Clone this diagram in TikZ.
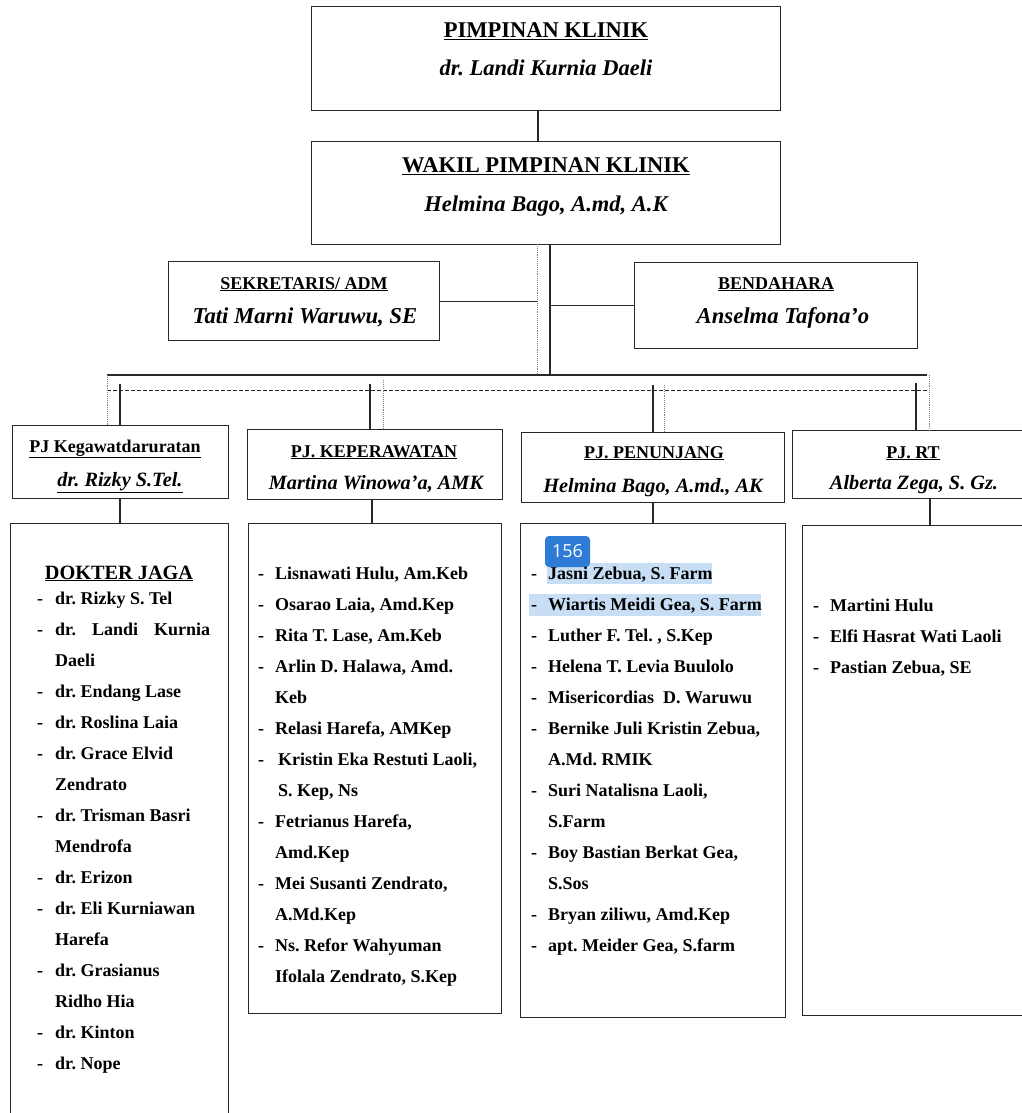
\documentclass[tikz,border=0pt]{standalone}
\usepackage{fontspec}
\setmainfont{Liberation Serif}
\newfontfamily\badgefont{Open Sans}
\usetikzlibrary{positioning}
\frenchspacing

\definecolor{inkgray}{RGB}{40,40,40}
\definecolor{selblue}{RGB}{200,222,244}
\definecolor{badgeblue}{RGB}{46,124,214}

\newcommand{\headfont}{\fontsize{22.5}{26}\selectfont\bfseries}
\newcommand{\subfont}{\fontsize{18}{22}\selectfont\bfseries}
\newcommand{\subname}{\fontsize{22.7}{26}\selectfont\bfseries\itshape}
\newcommand{\pjfont}{\fontsize{18}{22}\selectfont\bfseries}
\newcommand{\pjname}{\fontsize{20.3}{24}\selectfont\bfseries\itshape}
\newcommand{\listfont}{\fontsize{18}{31}\selectfont\bfseries}

\tikzset{
  box/.style={draw=inkgray, line width=1.3pt, rectangle, inner sep=0pt, anchor=north west},
  link/.style={draw=inkgray, line width=1.1pt},
  dotlink/.style={draw=gray, line width=0.9pt, densely dotted},
  dashlink/.style={draw=inkgray, line width=1pt, dash pattern=on 4pt off 2pt},
  hdtitle/.style={anchor=base, inner sep=0pt, font=\headfont},
  hdname/.style={anchor=base, inner sep=0pt, font=\headfont\itshape},
  roster/.style={anchor=base west, inner sep=0pt, font=\listfont}
}

\begin{document}
\begin{tikzpicture}[x=1pt, y=-1pt]
    \useasboundingbox (0,0) rectangle (1022,1113);
    \clip (0,0) rectangle (1022,1113);

    % Top boxes
    \node[box, minimum width=469pt, minimum height=104pt] (pimpinan) at (311,6) {};
    \node[box, minimum width=469pt, minimum height=103pt] (wakil) at (311,141) {};
    \node[box, minimum width=271pt, minimum height=79pt] (sekretaris) at (168,261) {};
    \node[box, minimum width=283pt, minimum height=86pt] (bendahara) at (634,262) {};

    \node[hdtitle] (pimpinan-t) at (546,38) {\underline{PIMPINAN KLINIK}};
    \node[hdname] (pimpinan-n) at (546,76) {dr. Landi Kurnia Daeli};
    \node[hdtitle] (wakil-t) at (546,172) {\underline{WAKIL PIMPINAN KLINIK}};
    \node[hdname] (wakil-n) at (546,211) {Helmina Bago, A.md, A.K};
    \node[hdtitle, font=\subfont] (sekretaris-t) at (304,289) {\underline{SEKRETARIS/ ADM}};
    \node[hdname, font=\subname] (sekretaris-n) at (305,323) {Tati Marni Waruwu, SE};
    \node[hdtitle, font=\subfont] (bendahara-t) at (776,289) {\underline{BENDAHARA}};
    \node[hdname, font=\subname] (bendahara-n) at (783,323) {Anselma Tafona'o};

    % Trunk and branches
    \coordinate (trunk) at (550,244);
    \coordinate (dtrunk) at (537,244);
    \coordinate (busL) at (107,375);
    \coordinate (busR) at (927,375);
    \coordinate (dbusL) at (107,390);
    \coordinate (dbusR) at (929,390);

    \draw[link] (pimpinan.south -| 538,0) -- (wakil.north -| 538,0);
    \draw[link] (trunk) -- (trunk |- busR);
    \draw[dotlink] (dtrunk) -- (dtrunk |- busR);
    \draw[link] (sekretaris.east) -- (sekretaris.east -| dtrunk);
    \draw[link] (bendahara.west) -- (bendahara.west -| trunk);
    \draw[link] (busL) -- (busR);
    \draw[dashlink] (dbusL) -- (dbusR);

    % PJ boxes
    \node[box, minimum width=216pt, minimum height=73pt] (keg) at (12,425) {};
    \node[box, minimum width=255pt, minimum height=70pt] (kep) at (247,429) {};
    \node[box, minimum width=263pt, minimum height=70pt] (pen) at (521,432) {};
    \node[box, minimum width=244pt, minimum height=68pt] (rt) at (792,430) {};

    \node[hdtitle, font=\pjfont] (keg-t) at (115,452) {\underline{PJ Kegawatdaruratan}};
    \node[hdname, font=\pjname] (keg-n) at (120,486) {\underline{dr. Rizky S.Tel.}};
    \node[hdtitle, font=\pjfont] (kep-t) at (374,457) {\underline{PJ. KEPERAWATAN}};
    \node[hdname, font=\pjname] (kep-n) at (376,489) {Martina Winowa'a, AMK};
    \node[hdtitle, font=\pjfont] (pen-t) at (654,458) {\underline{PJ. PENUNJANG}};
    \node[hdname, font=\pjname] (pen-n) at (653,492) {Helmina Bago, A.md., AK};
    \node[hdtitle, font=\pjfont] (rt-t) at (913,458) {\underline{PJ. RT}};
    \node[hdname, font=\pjname] (rt-n) at (914,489) {Alberta Zega, S. Gz.};

    % Drops from the bus
    \coordinate (kegdrop) at (120,384);
    \coordinate (kepdrop) at (370,384);
    \coordinate (pendrop) at (653,385);
    \coordinate (rtdrop) at (916,383);
    \draw[link] (kegdrop) -- (kegdrop |- keg.north);
    \draw[link] (kepdrop) -- (kepdrop |- kep.north);
    \draw[link] (pendrop) -- (pendrop |- pen.north);
    \draw[link] (rtdrop) -- (rtdrop |- rt.north);
    \draw[dotlink] (busL) -- (busL |- keg.north);
    \draw[dotlink] (383,380) -- (383,429);
    \draw[dotlink] (664,385) -- (664,432);
    \draw[dotlink] (929,375) -- (929,432);

    % Staff lists
    \node[box, minimum width=218pt, minimum height=610pt] (dokter) at (10,523) {};
    \node[box, minimum width=253pt, minimum height=490pt] (keplist) at (248,523) {};
    \node[box, minimum width=265pt, minimum height=494pt] (penlist) at (520,523) {};
    \node[box, minimum width=240pt, minimum height=490pt] (rtlist) at (802,525) {};

    \draw[link] (keg.south -| kegdrop) -- (dokter.north -| kegdrop);
    \draw[link] (kep.south -| 372,0) -- (keplist.north -| 372,0);
    \draw[link] (pen.south -| pendrop) -- (penlist.north -| pendrop);
    \draw[link] (rt.south -| 930,0) -- (rtlist.north -| 930,0);

    % Selection marks
    \fill[selblue] (547,563) rectangle (712,584);
    \fill[selblue] (529,594) rectangle (761,616);
    \node[fill=badgeblue, rounded corners=4pt, text=white, inner sep=0pt,
      minimum width=45pt, minimum height=31pt, font=\badgefont\fontsize{18}{20}\selectfont]
      (badge) at (567.5,551.5) {156};

    \node[hdtitle, font=\fontsize{20.3}{24}\selectfont\bfseries] (dokter-t) at (119,579) {\underline{DOKTER JAGA}};
    \node[roster] (dokter-l) at (37,604) {\begin{tabular}[t]{@{}p{18pt}@{}l@{}}
      - & dr. Rizky S. Tel\\
      - & \makebox[155pt][s]{dr. Landi Kurnia}\\
        & Daeli\\
      - & dr. Endang Lase\\
      - & dr. Roslina Laia\\
      - & dr. Grace Elvid\\
        & Zendrato\\
      - & dr. Trisman Basri\\
        & Mendrofa\\
      - & dr. Erizon\\
      - & dr. Eli Kurniawan\\
        & Harefa\\
      - & dr. Grasianus\\
        & Ridho Hia\\
      - & dr. Kinton\\
      - & dr. Nope
    \end{tabular}};

    \node[roster] (kep-l) at (258,579) {\begin{tabular}[t]{@{}p{17pt}@{}l@{}}
      - & Lisnawati Hulu, Am.Keb\\
      - & Osarao Laia, Amd.Kep\\
      - & Rita T. Lase, Am.Keb\\
      - & Arlin D. Halawa, Amd.\\
        & Keb\\
      - & Relasi Harefa, AMKep\\
      - & \hspace{3pt}Kristin Eka Restuti Laoli,\\
        & \hspace{3pt}S. Kep, Ns\\
      - & Fetrianus Harefa,\\
        & Amd.Kep\\
      - & Mei Susanti Zendrato,\\
        & A.Md.Kep\\
      - & Ns. Refor Wahyuman\\
        & Ifolala Zendrato, S.Kep
    \end{tabular}};

    \node[roster] (pen-l) at (531,579) {\begin{tabular}[t]{@{}p{17pt}@{}l@{}}
      - & Jasni Zebua, S. Farm\\
      - & Wiartis Meidi Gea, S. Farm\\
      - & Luther F. Tel. , S.Kep\\
      - & Helena T. Levia Buulolo\\
      - & Misericordias\ \ D. Waruwu\\
      - & Bernike Juli Kristin Zebua,\\
        & A.Md. RMIK\\
      - & Suri Natalisna Laoli,\\
        & S.Farm\\
      - & Boy Bastian Berkat Gea,\\
        & S.Sos\\
      - & Bryan ziliwu, Amd.Kep\\
      - & apt. Meider Gea, S.farm
    \end{tabular}};

    \node[roster] (rt-l) at (813,611) {\begin{tabular}[t]{@{}p{17pt}@{}l@{}}
      - & Martini Hulu\\
      - & Elfi Hasrat Wati Laoli\\
      - & Pastian Zebua, SE
    \end{tabular}};
\end{tikzpicture}
\end{document}
